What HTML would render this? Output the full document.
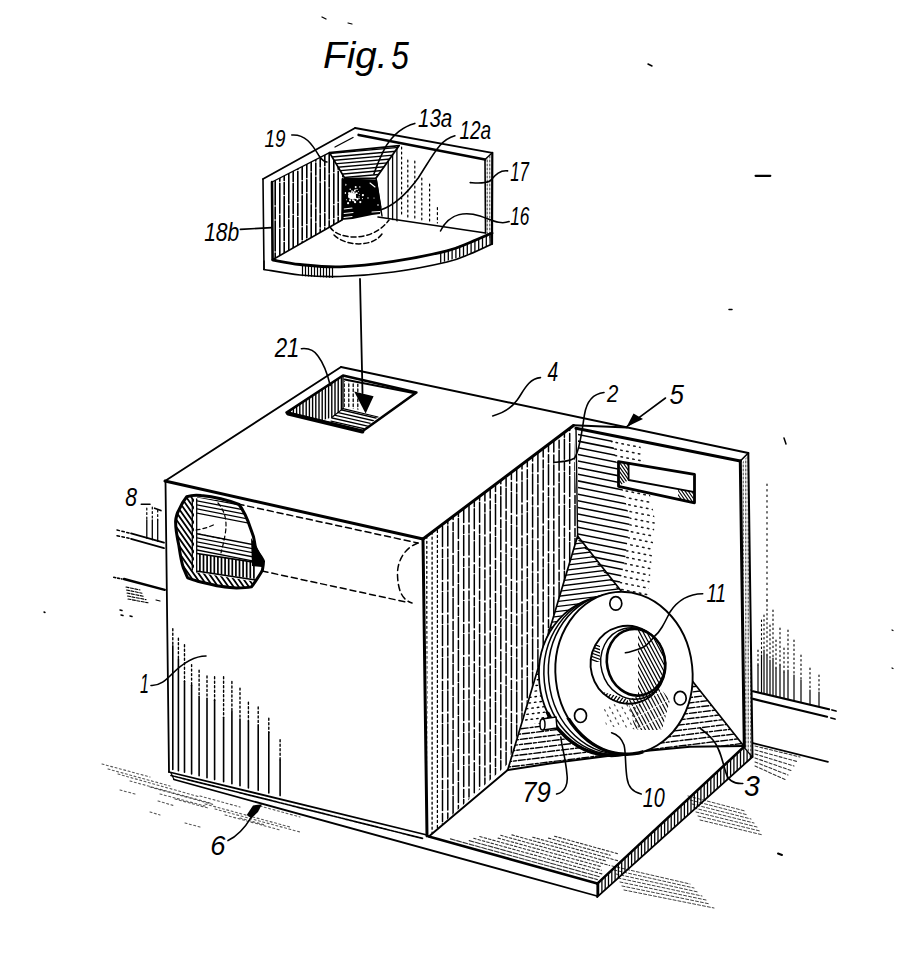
<!DOCTYPE html>
<html><head><meta charset="utf-8"><style>
html,body{margin:0;padding:0;background:#fff;}
svg{display:block;}
text{font-family:"Liberation Sans",sans-serif;fill:#000;stroke:none;}
</style></head><body>
<svg width="898" height="956" viewBox="0 0 898 956" stroke="#000" stroke-linecap="round" stroke-linejoin="round">
<defs><clipPath id="c1"><polygon points="272.0,182.0 329.5,152.6 345.0,178.6 342.0,220.0 272.6,259.7"/></clipPath><clipPath id="c2"><polygon points="329.5,152.6 399.2,145.6 376.1,178.1 345.0,178.6"/></clipPath><clipPath id="c3"><polygon points="385.0,165.0 399.0,145.6 399.0,222.0 385.0,218.0"/></clipPath><clipPath id="c4"><polygon points="486.0,160.0 491.0,154.0 491.0,242.0 486.0,234.0"/></clipPath><clipPath id="c5"><polygon points="300.0,265.0 334.0,267.0 334.0,278.0 300.0,276.0"/></clipPath><clipPath id="c6"><polygon points="440.0,252.0 470.0,242.5 492.0,233.0 492.0,244.0 470.0,254.0 440.0,263.0"/></clipPath><clipPath id="c7"><polygon points="286.5,412.6 343.0,375.5 343.0,408.6 331.7,417.5 320.0,421.0"/></clipPath><clipPath id="c8"><polygon points="331.7,417.0 343.0,408.6 378.0,417.0 363.0,430.0 330.0,423.0"/></clipPath><clipPath id="c9"><polygon points="344.0,381.0 360.0,384.0 360.0,410.0 344.0,407.0"/></clipPath><clipPath id="c10"><polygon points="440.0,526.0 573.5,425.5 577.6,536.0 508.7,763.0 440.0,826.0"/></clipPath><clipPath id="c11"><polygon points="425.0,539.0 440.0,526.0 440.0,826.0 428.8,836.4"/></clipPath><clipPath id="c12"><polygon points="742.0,463.0 748.0,455.0 752.0,756.0 745.0,747.0"/></clipPath><clipPath id="c13"><polygon points="578.0,432.0 612.0,438.0 618.0,470.0 630.0,520.0 625.0,560.0 618.0,590.0 578.0,540.0"/></clipPath><clipPath id="c14"><polygon points="610.0,438.0 640.0,444.0 655.0,520.0 648.0,600.0 618.0,590.0 625.0,560.0 630.0,520.0 618.0,470.0"/></clipPath><clipPath id="c15"><polygon points="619.4,463.0 628.6,464.0 628.6,480.0 619.4,486.0"/></clipPath><clipPath id="c16"><polygon points="678.0,489.0 693.6,492.0 693.6,502.0 678.0,499.0"/></clipPath><clipPath id="c17"><polygon points="577.6,536.0 540.6,660.0 675.7,660.0"/></clipPath><clipPath id="c18"><polygon points="507.7,770.0 521.4,724.0 640.0,724.0 675.7,660.0 743.8,746.0 690.0,746.8 650.0,750.5 600.0,757.0 550.0,763.4"/></clipPath><clipPath id="c19"><polygon points="540.6,660.0 521.4,724.0 640.0,724.0 675.7,660.0"/></clipPath><clipPath id="c20"><polygon points="598.0,884.0 744.0,748.0 752.0,757.0 598.0,896.0"/></clipPath><clipPath id="fbot"><rect x="540" y="705" width="100" height="60"/></clipPath><clipPath id="fbot2"><rect x="545" y="712" width="90" height="50"/></clipPath><clipPath id="c21"><polygon points="603.0,706.0 640.0,700.0 640.0,730.0 606.0,726.0"/></clipPath><clipPath id="c21o"><path d="M555.5,673 a68.5,81.3 0 1,0 137,0 a68.5,81.3 0 1,0 -137,0Z"/></clipPath><clipPath id="c22"><polygon points="590.0,645.0 600.0,645.0 600.0,662.0 590.0,662.0"/></clipPath><clipPath id="c22o"><path d="M590.7,664.8 a37.3,39 0 1,0 74.6,0 a37.3,39 0 1,0 -74.6,0Z"/></clipPath><clipPath id="c23"><polygon points="603.0,692.0 628.0,699.0 628.0,707.0 603.0,702.0"/></clipPath><clipPath id="c23o"><path d="M590.7,664.8 a37.3,39 0 1,0 74.6,0 a37.3,39 0 1,0 -74.6,0Z"/></clipPath><clipPath id="c24"><polygon points="638.0,625.0 670.0,630.0 670.0,700.0 638.0,700.0"/></clipPath><clipPath id="c24o"><path d="M607,662.2 a29,33.5 0 1,0 58,0 a29,33.5 0 1,0 -58,0Z"/></clipPath><clipPath id="c25"><polygon points="628.0,700.0 660.0,688.0 670.0,700.0 662.0,730.0 635.0,730.0"/></clipPath><clipPath id="c25o"><path d="M555.5,673 a68.5,81.3 0 1,0 137,0 a68.5,81.3 0 1,0 -137,0Z"/></clipPath><clipPath id="c26"><polygon points="170.0,490.0 194.0,490.0 194.0,572.0 258.0,582.0 258.0,595.0 170.0,595.0"/></clipPath><clipPath id="c26o"><path d="M186.7,496.7 C192,495 197,495 201.2,495.6 C215,497 230,501 239,504.5 C243,510 246,516 248,521.2 C250,527 252,532 253.5,536.8 C254.5,541 255,545 255.7,549 C258,553 262,557 263.5,561.3 C263.5,564 263,567 262.4,570.2 C261,573 259,576 256.9,579.1 C255,582 253,585 251.3,586.9 C246,588 241,588 236.8,588 C230,587.5 223,587 216.8,585.8 C210,584 204,583 197.8,581.3 C194,580 190,579 187.8,578 C186,575 185,571 183.4,568 C181,561 180,553 178.9,545.7 C177,537 175.5,529 175.6,521.2 C176,517 177,513 178.9,510 C181,505 184,500 186.7,496.7 Z"/></clipPath><clipPath id="c27"><polygon points="197.0,497.0 250.0,505.0 250.0,525.0 197.0,515.0"/></clipPath><clipPath id="c27o"><path d="M186.7,496.7 C192,495 197,495 201.2,495.6 C215,497 230,501 239,504.5 C243,510 246,516 248,521.2 C250,527 252,532 253.5,536.8 C254.5,541 255,545 255.7,549 C258,553 262,557 263.5,561.3 C263.5,564 263,567 262.4,570.2 C261,573 259,576 256.9,579.1 C255,582 253,585 251.3,586.9 C246,588 241,588 236.8,588 C230,587.5 223,587 216.8,585.8 C210,584 204,583 197.8,581.3 C194,580 190,579 187.8,578 C186,575 185,571 183.4,568 C181,561 180,553 178.9,545.7 C177,537 175.5,529 175.6,521.2 C176,517 177,513 178.9,510 C181,505 184,500 186.7,496.7 Z"/></clipPath><clipPath id="c28"><polygon points="197.0,532.0 255.0,543.0 255.0,562.0 197.0,553.0"/></clipPath><clipPath id="c28o"><path d="M186.7,496.7 C192,495 197,495 201.2,495.6 C215,497 230,501 239,504.5 C243,510 246,516 248,521.2 C250,527 252,532 253.5,536.8 C254.5,541 255,545 255.7,549 C258,553 262,557 263.5,561.3 C263.5,564 263,567 262.4,570.2 C261,573 259,576 256.9,579.1 C255,582 253,585 251.3,586.9 C246,588 241,588 236.8,588 C230,587.5 223,587 216.8,585.8 C210,584 204,583 197.8,581.3 C194,580 190,579 187.8,578 C186,575 185,571 183.4,568 C181,561 180,553 178.9,545.7 C177,537 175.5,529 175.6,521.2 C176,517 177,513 178.9,510 C181,505 184,500 186.7,496.7 Z"/></clipPath><clipPath id="c29"><polygon points="197.0,553.5 255.7,562.4 255.7,579.0 197.8,571.3"/></clipPath><clipPath id="c29o"><path d="M186.7,496.7 C192,495 197,495 201.2,495.6 C215,497 230,501 239,504.5 C243,510 246,516 248,521.2 C250,527 252,532 253.5,536.8 C254.5,541 255,545 255.7,549 C258,553 262,557 263.5,561.3 C263.5,564 263,567 262.4,570.2 C261,573 259,576 256.9,579.1 C255,582 253,585 251.3,586.9 C246,588 241,588 236.8,588 C230,587.5 223,587 216.8,585.8 C210,584 204,583 197.8,581.3 C194,580 190,579 187.8,578 C186,575 185,571 183.4,568 C181,561 180,553 178.9,545.7 C177,537 175.5,529 175.6,521.2 C176,517 177,513 178.9,510 C181,505 184,500 186.7,496.7 Z"/></clipPath></defs>
<rect width="898" height="956" fill="#fff" stroke="none"/>
<text x="100" y="150" font-size="100" font-style="italic" transform="translate(284.36,12.9) scale(0.3868,0.3649)" >Fig.</text>
<text x="100" y="150" font-size="100" font-style="italic" transform="translate(359.7,9.86) scale(0.3167,0.395)" >5</text>
<g clip-path="url(#c1)" stroke-width="1.6" fill="none" stroke-dasharray="30 2 12 2" opacity="1.0"><path d="M342.8 150.6L342.8 261.7" stroke-dashoffset="4.0"/><path d="M338.2 150.6L338.2 261.7" stroke-dashoffset="25.4"/><path d="M333.8 150.6L333.8 261.7" stroke-dashoffset="22.9"/><path d="M329.2 150.6L329.2 261.7" stroke-dashoffset="7.7"/><path d="M324.8 150.6L324.8 261.7" stroke-dashoffset="14.9"/><path d="M320.2 150.6L320.2 261.7" stroke-dashoffset="13.5"/><path d="M315.8 150.6L315.8 261.7" stroke-dashoffset="19.5"/><path d="M311.2 150.6L311.2 261.7" stroke-dashoffset="23.7"/><path d="M306.8 150.6L306.8 261.7" stroke-dashoffset="2.8"/><path d="M302.2 150.6L302.2 261.7" stroke-dashoffset="0.9"/><path d="M297.8 150.6L297.8 261.7" stroke-dashoffset="25.1"/><path d="M293.2 150.6L293.2 261.7" stroke-dashoffset="13.0"/><path d="M288.8 150.6L288.8 261.7" stroke-dashoffset="22.9"/><path d="M284.2 150.6L284.2 261.7" stroke-dashoffset="0.1"/><path d="M279.8 150.6L279.8 261.7" stroke-dashoffset="13.4"/><path d="M275.2 150.6L275.2 261.7" stroke-dashoffset="21.6"/></g>
<path clip-path="url(#c2)" d="M327.6 153.7L401.3 147.2M327.9 157.3L401.7 150.8M328.2 160.8L402.0 154.4M328.5 164.4L402.3 158.0M328.8 168.0L402.6 161.6M329.2 171.6L402.9 165.2M329.5 175.2L403.2 168.7M329.8 178.8L403.5 172.3" stroke-width="1.4" fill="none" opacity="1.0"/>
<path clip-path="url(#c3)" d="M396.9 143.6L396.9 224.0M392.6 143.6L392.6 224.0M388.2 143.6L388.2 224.0" stroke-width="1.3" fill="none" opacity="1.0"/>
<line x1="401.6" y1="147.0" x2="401.6" y2="215.7" stroke-width="1.2" stroke-dasharray="2 3"/>
<line x1="407.8" y1="160.0" x2="407.8" y2="217.0" stroke-width="1.2" stroke-dasharray="2 3"/>
<line x1="414.8" y1="161.0" x2="414.8" y2="218.4" stroke-width="1.2" stroke-dasharray="2 3"/>
<line x1="421.8" y1="178.0" x2="421.8" y2="219.8" stroke-width="1.2" stroke-dasharray="2 3"/>
<line x1="429.6" y1="184.0" x2="429.6" y2="221.3" stroke-width="1.2" stroke-dasharray="2 3"/>
<line x1="437.4" y1="207.6" x2="437.4" y2="222.9" stroke-width="1.2" stroke-dasharray="2 3"/>
<path d="M341.5,178.6 L377,179.5 L381.5,207 L380,214 L372,215 L352.6,219 L341.3,220 Z" fill="#000" stroke-width="0" />
<g fill="#fff" stroke="none"><circle cx="352.8" cy="198.3" r="0.9"/><circle cx="359.0" cy="198.5" r="0.7"/><circle cx="359.0" cy="197.9" r="0.4"/><circle cx="352.4" cy="196.7" r="0.5"/><circle cx="346.5" cy="199.8" r="0.5"/><circle cx="355.1" cy="202.2" r="1.1"/><circle cx="350.0" cy="193.9" r="1.1"/><circle cx="362.5" cy="198.6" r="0.6"/><circle cx="355.4" cy="197.8" r="0.6"/><circle cx="355.1" cy="193.4" r="0.8"/><circle cx="351.2" cy="192.7" r="0.8"/><circle cx="355.5" cy="196.6" r="0.5"/><circle cx="352.0" cy="191.7" r="0.6"/><circle cx="349.8" cy="193.5" r="0.6"/><circle cx="355.9" cy="189.3" r="0.6"/><circle cx="349.1" cy="193.5" r="1.0"/><circle cx="353.5" cy="192.3" r="1.1"/><circle cx="357.5" cy="199.2" r="0.9"/><circle cx="357.0" cy="200.3" r="0.4"/><circle cx="350.2" cy="189.3" r="0.8"/><circle cx="356.8" cy="193.2" r="0.9"/><circle cx="349.1" cy="192.7" r="0.7"/><circle cx="359.8" cy="186.9" r="0.7"/><circle cx="353.2" cy="194.6" r="0.9"/><circle cx="345.5" cy="184.7" r="1.0"/><circle cx="353.0" cy="200.3" r="0.9"/><circle cx="359.0" cy="196.7" r="0.5"/><circle cx="355.2" cy="197.1" r="0.9"/><circle cx="356.3" cy="198.5" r="0.7"/><circle cx="355.3" cy="194.7" r="0.7"/><circle cx="345.1" cy="193.1" r="1.0"/><circle cx="356.4" cy="193.3" r="0.7"/><circle cx="348.1" cy="203.2" r="1.1"/><circle cx="355.6" cy="198.3" r="0.6"/><circle cx="354.5" cy="201.2" r="0.8"/><circle cx="354.0" cy="196.4" r="0.7"/><circle cx="350.0" cy="200.3" r="1.1"/><circle cx="352.0" cy="191.0" r="0.8"/><circle cx="353.3" cy="194.7" r="1.0"/><circle cx="355.7" cy="187.0" r="1.0"/><circle cx="350.5" cy="198.8" r="0.5"/><circle cx="352.9" cy="194.8" r="0.4"/><circle cx="354.7" cy="198.6" r="0.6"/><circle cx="354.1" cy="196.0" r="0.5"/><circle cx="357.4" cy="198.5" r="0.4"/><circle cx="358.4" cy="191.6" r="0.5"/><circle cx="353.9" cy="200.2" r="0.7"/><circle cx="360.3" cy="202.1" r="1.1"/><circle cx="348.9" cy="197.1" r="0.5"/><circle cx="357.3" cy="198.5" r="0.6"/><circle cx="355.3" cy="193.7" r="0.4"/><circle cx="359.3" cy="194.3" r="0.5"/><circle cx="353.0" cy="195.7" r="0.8"/><circle cx="362.9" cy="194.8" r="0.9"/><circle cx="353.7" cy="200.3" r="0.5"/><circle cx="354.8" cy="190.5" r="0.9"/><circle cx="352.5" cy="198.8" r="1.0"/><circle cx="362.8" cy="195.2" r="1.0"/><circle cx="357.1" cy="189.3" r="0.6"/><circle cx="349.8" cy="195.5" r="0.4"/><ellipse cx="352" cy="196" rx="4" ry="3"/><circle cx="368" cy="198" r="0.7"/><circle cx="374" cy="198" r="0.6"/><circle cx="378" cy="205" r="0.8"/></g>
<path d="M344,209 L352,208 M344,213.5 L353,212.5 M344,217.5 L352,216.5 M372,212 L380,211.5" fill="none" stroke-width="1.1" stroke="#fff"/>
<path d="M370,183 L375,187" fill="none" stroke-width="1.1" stroke="#fff"/>
<line x1="263.0" y1="179.0" x2="264.0" y2="269.5" stroke-width="1.6" />
<line x1="272.0" y1="182.0" x2="272.6" y2="259.7" stroke-width="2.6" />
<line x1="263.0" y1="179.0" x2="355.1" y2="128.0" stroke-width="1.8" />
<line x1="272.0" y1="182.0" x2="329.5" y2="152.6" stroke-width="1.4" />
<line x1="355.1" y1="128.0" x2="492.3" y2="152.8" stroke-width="1.8" />
<line x1="358.7" y1="135.0" x2="485.0" y2="159.5" stroke-width="2.8" />
<line x1="353.0" y1="137.5" x2="335.0" y2="147.0" stroke-width="1.4" />
<line x1="492.3" y1="152.8" x2="492.0" y2="244.0" stroke-width="2.2" />
<line x1="485.0" y1="159.5" x2="492.3" y2="152.8" stroke-width="1.4" />
<line x1="485.0" y1="159.5" x2="485.5" y2="233.0" stroke-width="1.6" />
<path clip-path="url(#c4)" d="M489.8 152.0L489.8 244.0M487.2 152.0L487.2 244.0" stroke-width="0.8" fill="none" stroke-dasharray="2 2" opacity="1.0"/>
<polygon points="329.5,152.6 399.2,145.6 376.1,178.1 345.0,178.6" fill="none" stroke-width="1.8" />
<line x1="345.0" y1="178.6" x2="342.0" y2="220.0" stroke-width="1.6" />
<line x1="376.0" y1="178.0" x2="382.0" y2="216.0" stroke-width="1.4" />
<line x1="272.6" y1="259.7" x2="342.0" y2="220.0" stroke-width="1.6" />
<line x1="378.0" y1="217.0" x2="485.5" y2="233.0" stroke-width="1.6" />
<path d="M273.0,260.0 C277.5,260.8 288.8,263.4 300.0,264.5 C311.2,265.6 324.4,267.3 340.0,266.8 C355.6,266.3 375.7,264.1 393.5,261.4 C411.3,258.7 434.2,254.0 447.0,250.8 C459.8,247.7 462.5,245.5 470.0,242.5 C477.5,239.5 488.3,234.6 492.0,233.0" fill="none" stroke-width="2.8" />
<path d="M264.0,269.5 C270.0,270.4 287.3,273.8 300.0,275.0 C312.7,276.2 324.4,277.0 340.0,276.5 C355.6,276.0 375.7,274.4 393.5,272.0 C411.3,269.6 434.2,265.0 447.0,262.0 C459.8,259.0 462.5,257.0 470.0,254.0 C477.5,251.0 488.3,245.7 492.0,244.0" fill="none" stroke-width="1.7" />
<line x1="264.0" y1="269.5" x2="264.0" y2="261.0" stroke-width="1.4" />
<path clip-path="url(#c5)" d="M332.5 263.0L332.5 280.0M329.5 263.0L329.5 280.0M326.5 263.0L326.5 280.0M323.5 263.0L323.5 280.0M320.5 263.0L320.5 280.0M317.5 263.0L317.5 280.0M314.5 263.0L314.5 280.0M311.5 263.0L311.5 280.0M308.5 263.0L308.5 280.0M305.5 263.0L305.5 280.0M302.5 263.0L302.5 280.0" stroke-width="1.2" fill="none" opacity="1.0"/>
<path clip-path="url(#c6)" d="M490.1 231.0L490.1 265.0M486.3 231.0L486.3 265.0M482.5 231.0L482.5 265.0M478.7 231.0L478.7 265.0M474.9 231.0L474.9 265.0M471.1 231.0L471.1 265.0M467.3 231.0L467.3 265.0M463.5 231.0L463.5 265.0M459.7 231.0L459.7 265.0M455.9 231.0L455.9 265.0M452.1 231.0L452.1 265.0M448.3 231.0L448.3 265.0M444.5 231.0L444.5 265.0M440.7 231.0L440.7 265.0" stroke-width="1.3" fill="none" opacity="1.0"/>
<path d="M330,227 C338,240 372,243 389,220" fill="none" stroke-width="1.5" stroke-dasharray="5 3"/>
<path d="M334,235 C345,246 372,248 382,234" fill="none" stroke-width="1.5" stroke-dasharray="5 3"/>
<path d="M291.8,135 C305,134 312,144 318.6,155.2 C322,160 325,162 327,162" fill="none" stroke-width="1.6" />
<path d="M414.8,123.4 C405,126 395,132 386.3,145.6 C381,155 377,165 373.9,174.1" fill="none" stroke-width="1.6" />
<path d="M454.9,135.8 C440,140 435,152 418.4,177.7 C408,192 395,205 381,209.8" fill="none" stroke-width="1.6" />
<path d="M507.6,170.9 C498,170 494,177 490,181 C484,184 476,183 470.2,182.6" fill="none" stroke-width="1.6" />
<path d="M509.1,221.6 C500,225 492,220 480,216 C467,212 450,212 440.5,231" fill="none" stroke-width="1.6" />
<line x1="240.4" y1="229.4" x2="271.6" y2="227.6" stroke-width="1.6" />
<text x="100" y="150" font-size="100" font-style="italic" transform="translate(245.57,110.85) scale(0.1887,0.2394)" >19</text>
<text x="100" y="150" font-size="100" font-style="italic" transform="translate(397.58,89.23) scale(0.205,0.2521)" >13a</text>
<text x="100" y="150" font-size="100" font-style="italic" transform="translate(440.43,100.72) scale(0.19,0.2535)" >12a</text>
<text x="100" y="150" font-size="100" font-style="italic" transform="translate(493.35,140.57) scale(0.1685,0.2696)" >17</text>
<text x="100" y="150" font-size="100" font-style="italic" transform="translate(492.87,187.43) scale(0.1731,0.2521)" >16</text>
<text x="100" y="150" font-size="100" font-style="italic" transform="translate(183.11,202.84) scale(0.2106,0.2527)" >18b</text>
<line x1="360.0" y1="279.0" x2="362.5" y2="393.0" stroke-width="1.8" />
<polygon points="354.2,391.5 373.6,396.2 365.6,413.5" fill="#000" stroke="none" />
<path clip-path="url(#c7)" d="M341.4 373.5L341.4 423.0M338.2 373.5L338.2 423.0M335.0 373.5L335.0 423.0M331.8 373.5L331.8 423.0M328.6 373.5L328.6 423.0M325.4 373.5L325.4 423.0M322.2 373.5L322.2 423.0M319.0 373.5L319.0 423.0M315.8 373.5L315.8 423.0M312.6 373.5L312.6 423.0M309.4 373.5L309.4 423.0M306.2 373.5L306.2 423.0M303.0 373.5L303.0 423.0M299.8 373.5L299.8 423.0M296.6 373.5L296.6 423.0M293.4 373.5L293.4 423.0M290.2 373.5L290.2 423.0M287.0 373.5L287.0 423.0" stroke-width="1.4" fill="none" opacity="1.0"/>
<path clip-path="url(#c8)" d="M331.5 407.6L379.6 418.8M330.8 410.9L378.9 422.0M330.0 414.1L378.2 425.2M329.3 417.3L377.4 428.4M328.5 420.5L376.7 431.6" stroke-width="1.4" fill="none" opacity="1.0"/>
<path clip-path="url(#c9)" d="M357.8 379.0L357.8 412.0M353.2 379.0L353.2 412.0M348.8 379.0L348.8 412.0M344.2 379.0L344.2 412.0" stroke-width="1.3" fill="none" stroke-dasharray="2.5 2.5" opacity="1.0"/>
<line x1="288.0" y1="413.5" x2="362.4" y2="431.5" stroke-width="4.0" />
<polygon points="286.5,412.6 343.0,375.5 416.4,392.5 362.4,431.2" fill="none" stroke-width="2.6" />
<line x1="343.0" y1="377.0" x2="343.0" y2="408.6" stroke-width="1.4" />
<line x1="331.7" y1="417.5" x2="343.0" y2="408.6" stroke-width="1.2" />
<line x1="343.0" y1="408.6" x2="378.0" y2="417.0" stroke-width="1.2" />
<line x1="344.6" y1="379.5" x2="414.8" y2="393.3" stroke-width="2.0" />
<line x1="165.0" y1="481.0" x2="341.0" y2="367.0" stroke-width="1.8" />
<line x1="341.0" y1="367.0" x2="748.3" y2="453.0" stroke-width="1.9" />
<line x1="165.0" y1="481.0" x2="423.0" y2="539.0" stroke-width="3.0" />
<line x1="423.0" y1="539.0" x2="573.5" y2="425.5" stroke-width="3.0" />
<line x1="423.0" y1="539.0" x2="427.0" y2="836.0" stroke-width="3.0" />
<line x1="165.5" y1="481.0" x2="169.0" y2="772.0" stroke-width="1.8" />
<line x1="169.0" y1="772.0" x2="427.0" y2="835.0" stroke-width="1.8" />
<line x1="171.0" y1="775.5" x2="423.0" y2="838.5" stroke-width="1.7" stroke-dasharray="3 1.2"/>
<line x1="174.0" y1="779.5" x2="597.0" y2="896.0" stroke-width="1.8" />
<line x1="171.0" y1="773.0" x2="174.0" y2="779.5" stroke-width="1.2" />
<g clip-path="url(#c10)" stroke-width="1.5" fill="none" stroke-dasharray="20 3 8 2" opacity="1.0"><path d="M575.0 423.5L575.0 828.0" stroke-dashoffset="17.1"/><path d="M569.7 423.5L569.7 828.0" stroke-dashoffset="12.9"/><path d="M564.4 423.5L564.4 828.0" stroke-dashoffset="17.3"/><path d="M559.1 423.5L559.1 828.0" stroke-dashoffset="6.2"/><path d="M553.8 423.5L553.8 828.0" stroke-dashoffset="24.4"/><path d="M548.5 423.5L548.5 828.0" stroke-dashoffset="24.7"/><path d="M543.2 423.5L543.2 828.0" stroke-dashoffset="19.6"/><path d="M537.9 423.5L537.9 828.0" stroke-dashoffset="4.8"/><path d="M532.6 423.5L532.6 828.0" stroke-dashoffset="15.6"/><path d="M527.3 423.5L527.3 828.0" stroke-dashoffset="9.8"/><path d="M522.0 423.5L522.0 828.0" stroke-dashoffset="7.5"/><path d="M516.7 423.5L516.7 828.0" stroke-dashoffset="28.6"/><path d="M511.4 423.5L511.4 828.0" stroke-dashoffset="29.9"/><path d="M506.1 423.5L506.1 828.0" stroke-dashoffset="1.3"/><path d="M500.8 423.5L500.8 828.0" stroke-dashoffset="25.8"/><path d="M495.5 423.5L495.5 828.0" stroke-dashoffset="18.1"/><path d="M490.2 423.5L490.2 828.0" stroke-dashoffset="11.4"/><path d="M484.9 423.5L484.9 828.0" stroke-dashoffset="8.5"/><path d="M479.6 423.5L479.6 828.0" stroke-dashoffset="20.2"/><path d="M474.3 423.5L474.3 828.0" stroke-dashoffset="13.7"/><path d="M469.0 423.5L469.0 828.0" stroke-dashoffset="20.6"/><path d="M463.7 423.5L463.7 828.0" stroke-dashoffset="19.9"/><path d="M458.4 423.5L458.4 828.0" stroke-dashoffset="4.0"/><path d="M453.1 423.5L453.1 828.0" stroke-dashoffset="23.0"/><path d="M447.8 423.5L447.8 828.0" stroke-dashoffset="29.5"/><path d="M442.5 423.5L442.5 828.0" stroke-dashoffset="29.1"/></g>
<g clip-path="url(#c11)" stroke-width="1.3" fill="none" stroke-dasharray="2 3" opacity="1.0"><path d="M437.4 524.0L437.4 838.4" stroke-dashoffset="13.6"/><path d="M432.1 524.0L432.1 838.4" stroke-dashoffset="16.8"/><path d="M426.8 524.0L426.8 838.4" stroke-dashoffset="27.7"/></g>
<line x1="573.5" y1="425.2" x2="627.0" y2="427.4" stroke-width="2.0" />
<line x1="740.3" y1="461.0" x2="748.3" y2="453.0" stroke-width="1.6" />
<line x1="575.9" y1="428.3" x2="740.3" y2="461.0" stroke-width="3.0" />
<line x1="748.3" y1="453.0" x2="752.5" y2="757.0" stroke-width="2.0" />
<line x1="740.3" y1="461.0" x2="744.3" y2="747.0" stroke-width="3.0" />
<path clip-path="url(#c12)" d="M750.8 453.0L750.8 758.0M748.2 453.0L748.2 758.0M745.8 453.0L745.8 758.0M743.2 453.0L743.2 758.0" stroke-width="0.8" fill="none" stroke-dasharray="2 2" opacity="1.0"/>
<line x1="576.0" y1="428.0" x2="577.6" y2="536.0" stroke-width="1.4" />
<path clip-path="url(#c13)" d="M575.6 434.0L649.3 448.8M574.3 440.4L648.0 455.1M573.0 446.8L646.7 461.5M571.7 453.2L645.4 467.9M570.5 459.5L644.2 474.3M569.2 465.9L642.9 480.6M567.9 472.3L641.6 487.0M566.6 478.6L640.4 493.4M565.4 485.0L639.1 499.8M564.1 491.4L637.8 506.1M562.8 497.8L636.5 512.5M561.5 504.1L635.3 518.9M560.3 510.5L634.0 525.2M559.0 516.9L632.7 531.6M557.7 523.3L631.4 538.0M556.4 529.6L630.2 544.4M555.2 536.0L628.9 550.7M553.9 542.4L627.6 557.1M552.6 548.8L626.3 563.5M551.4 555.1L625.1 569.9M550.1 561.5L623.8 576.2M548.8 567.9L622.5 582.6M547.5 574.3L621.2 589.0" stroke-width="1.5" fill="none" opacity="1.0"/>
<g clip-path="url(#c14)" stroke-width="1.5" fill="none" stroke-dasharray="1.5 4.5" opacity="0.9"><path d="M607.4 440.8L679.0 455.1" stroke-dashoffset="3.2"/><path d="M606.1 447.2L677.7 461.5" stroke-dashoffset="21.1"/><path d="M604.9 453.5L676.4 467.8" stroke-dashoffset="19.6"/><path d="M603.6 459.9L675.2 474.2" stroke-dashoffset="28.2"/><path d="M602.3 466.3L673.9 480.6" stroke-dashoffset="8.1"/><path d="M601.0 472.7L672.6 487.0" stroke-dashoffset="7.7"/><path d="M599.8 479.0L671.4 493.3" stroke-dashoffset="22.0"/><path d="M598.5 485.4L670.1 499.7" stroke-dashoffset="19.8"/><path d="M597.2 491.8L668.8 506.1" stroke-dashoffset="9.1"/><path d="M595.9 498.2L667.5 512.5" stroke-dashoffset="20.5"/><path d="M594.7 504.5L666.3 518.8" stroke-dashoffset="11.9"/><path d="M593.4 510.9L665.0 525.2" stroke-dashoffset="23.3"/><path d="M592.1 517.3L663.7 531.6" stroke-dashoffset="3.6"/><path d="M590.8 523.7L662.4 538.0" stroke-dashoffset="6.7"/><path d="M589.6 530.0L661.2 544.3" stroke-dashoffset="27.0"/><path d="M588.3 536.4L659.9 550.7" stroke-dashoffset="10.7"/><path d="M587.0 542.8L658.6 557.1" stroke-dashoffset="7.8"/><path d="M585.7 549.2L657.3 563.5" stroke-dashoffset="24.1"/><path d="M584.5 555.5L656.1 569.8" stroke-dashoffset="18.9"/><path d="M583.2 561.9L654.8 576.2" stroke-dashoffset="4.5"/><path d="M581.9 568.3L653.5 582.6" stroke-dashoffset="16.5"/><path d="M580.7 574.6L652.2 589.0" stroke-dashoffset="19.9"/><path d="M579.4 581.0L651.0 595.3" stroke-dashoffset="4.9"/></g>
<polygon points="618.5,461.6 694.5,474.4 694.5,502.8 618.5,486.3" fill="#fff" stroke-width="2.8" />
<polyline points="628.6,463.5 628.6,480.0 693.6,491.8" fill="none" stroke-width="1.8" />
<path clip-path="url(#c15)" d="M622.9 458.1L636.2 477.1M620.8 459.6L634.1 478.6M618.6 461.1L631.9 480.1M616.5 462.6L629.8 481.6M614.4 464.1L627.7 483.1M612.2 465.6L625.6 484.6M610.1 467.1L623.4 486.1M608.0 468.6L621.3 487.6" stroke-width="1.1" fill="none" opacity="1.0"/>
<path clip-path="url(#c16)" d="M684.8 481.8L698.4 501.1M682.7 483.3L696.3 502.6M680.6 484.7L694.1 504.1M678.5 486.2L692.0 505.6M676.3 487.7L689.9 507.1M674.2 489.2L687.7 508.6" stroke-width="1.1" fill="none" opacity="1.0"/>
<path clip-path="url(#c17)" d="M524.5 545.0L661.5 528.2M525.1 550.0L662.1 533.2M525.7 555.0L662.8 538.1M526.3 559.9L663.4 543.1M526.9 564.9L664.0 548.1M527.5 569.9L664.6 553.0M528.1 574.8L665.2 558.0M528.7 579.8L665.8 563.0M529.3 584.7L666.4 567.9M530.0 589.7L667.0 572.9M530.6 594.7L667.6 577.8M531.2 599.6L668.2 582.8M531.8 604.6L668.8 587.8M532.4 609.6L669.5 592.7M533.0 614.5L670.1 597.7M533.6 619.5L670.7 602.7M534.2 624.4L671.3 607.6M534.8 629.4L671.9 612.6M535.4 634.4L672.5 617.5M536.0 639.3L673.1 622.5M536.7 644.3L673.7 627.5M537.3 649.3L674.3 632.4M537.9 654.2L674.9 637.4M538.5 659.2L675.5 642.4M539.1 664.1L676.2 647.3M539.7 669.1L676.8 652.3M540.3 674.1L677.4 657.2" stroke-width="1.3" fill="none" opacity="1.0"/>
<g clip-path="url(#c18)" stroke-width="1.4" fill="none" stroke-dasharray="7 2 3 2" opacity="1.0"><path d="M495.2 684.8L734.7 655.4" stroke-dashoffset="5.4"/><path d="M495.9 689.9L735.3 660.5" stroke-dashoffset="19.8"/><path d="M496.5 695.1L736.0 665.7" stroke-dashoffset="10.0"/><path d="M497.1 700.3L736.6 670.9" stroke-dashoffset="5.9"/><path d="M497.8 705.4L737.2 676.0" stroke-dashoffset="14.7"/><path d="M498.4 710.6L737.9 681.2" stroke-dashoffset="14.8"/><path d="M499.0 715.7L738.5 686.3" stroke-dashoffset="14.4"/><path d="M499.7 720.9L739.1 691.5" stroke-dashoffset="13.7"/><path d="M500.3 726.1L739.8 696.7" stroke-dashoffset="7.9"/><path d="M500.9 731.2L740.4 701.8" stroke-dashoffset="7.6"/><path d="M501.6 736.4L741.0 707.0" stroke-dashoffset="20.8"/><path d="M502.2 741.6L741.7 712.2" stroke-dashoffset="9.7"/><path d="M502.8 746.7L742.3 717.3" stroke-dashoffset="20.2"/><path d="M503.5 751.9L742.9 722.5" stroke-dashoffset="23.6"/><path d="M504.1 757.0L743.6 727.6" stroke-dashoffset="26.0"/><path d="M504.7 762.2L744.2 732.8" stroke-dashoffset="28.3"/><path d="M505.4 767.4L744.8 738.0" stroke-dashoffset="7.0"/><path d="M506.0 772.5L745.5 743.1" stroke-dashoffset="7.1"/></g>
<g clip-path="url(#c19)" stroke-width="1.4" fill="none" stroke-dasharray="1.5 4" opacity="1.0"><path d="M512.3 666.2L676.0 646.1" stroke-dashoffset="20.3"/><path d="M513.0 671.7L676.7 651.6" stroke-dashoffset="23.5"/><path d="M513.6 677.2L677.4 657.1" stroke-dashoffset="15.6"/><path d="M514.3 682.6L678.0 662.5" stroke-dashoffset="15.3"/><path d="M515.0 688.1L678.7 668.0" stroke-dashoffset="11.8"/><path d="M515.6 693.5L679.4 673.4" stroke-dashoffset="29.9"/><path d="M516.3 699.0L680.0 678.9" stroke-dashoffset="8.7"/><path d="M517.0 704.5L680.7 684.4" stroke-dashoffset="4.4"/><path d="M517.7 709.9L681.4 689.8" stroke-dashoffset="7.8"/><path d="M518.3 715.4L682.0 695.3" stroke-dashoffset="7.8"/><path d="M519.0 720.8L682.7 700.7" stroke-dashoffset="9.8"/><path d="M519.7 726.3L683.4 706.2" stroke-dashoffset="8.0"/><path d="M520.3 731.8L684.1 711.7" stroke-dashoffset="3.2"/><path d="M521.0 737.2L684.7 717.1" stroke-dashoffset="9.8"/></g>
<line x1="577.6" y1="536.0" x2="507.7" y2="770.0" stroke-width="1.7" />
<line x1="577.6" y1="536.0" x2="743.8" y2="746.0" stroke-width="1.7" />
<polyline points="743.8,746.0 690.0,746.8 650.0,750.5 600.0,757.0 550.0,763.4 507.7,770.0" fill="none" stroke-width="2.0" />
<line x1="428.8" y1="836.4" x2="507.7" y2="770.0" stroke-width="1.9" />
<line x1="428.8" y1="836.4" x2="597.3" y2="883.6" stroke-width="2.6" />
<line x1="597.3" y1="883.6" x2="743.8" y2="747.0" stroke-width="2.6" />
<line x1="597.3" y1="896.9" x2="752.3" y2="757.0" stroke-width="1.8" />
<line x1="597.3" y1="883.6" x2="597.3" y2="896.9" stroke-width="1.8" />
<line x1="743.8" y1="747.0" x2="752.3" y2="757.0" stroke-width="1.2" />
<path clip-path="url(#c20)" d="M750.4 746.0L750.4 898.0M747.1 746.0L747.1 898.0M743.8 746.0L743.8 898.0M740.5 746.0L740.5 898.0M737.2 746.0L737.2 898.0M733.9 746.0L733.9 898.0M730.6 746.0L730.6 898.0M727.3 746.0L727.3 898.0M724.0 746.0L724.0 898.0M720.7 746.0L720.7 898.0M717.4 746.0L717.4 898.0M714.1 746.0L714.1 898.0M710.8 746.0L710.8 898.0M707.5 746.0L707.5 898.0M704.2 746.0L704.2 898.0M700.9 746.0L700.9 898.0M697.6 746.0L697.6 898.0M694.3 746.0L694.3 898.0M691.0 746.0L691.0 898.0M687.7 746.0L687.7 898.0M684.4 746.0L684.4 898.0M681.1 746.0L681.1 898.0M677.8 746.0L677.8 898.0M674.5 746.0L674.5 898.0M671.2 746.0L671.2 898.0M667.9 746.0L667.9 898.0M664.6 746.0L664.6 898.0M661.3 746.0L661.3 898.0M658.0 746.0L658.0 898.0M654.7 746.0L654.7 898.0M651.4 746.0L651.4 898.0M648.1 746.0L648.1 898.0M644.8 746.0L644.8 898.0M641.5 746.0L641.5 898.0M638.2 746.0L638.2 898.0M634.9 746.0L634.9 898.0M631.6 746.0L631.6 898.0M628.3 746.0L628.3 898.0M625.0 746.0L625.0 898.0M621.7 746.0L621.7 898.0M618.4 746.0L618.4 898.0M615.1 746.0L615.1 898.0M611.8 746.0L611.8 898.0M608.5 746.0L608.5 898.0M605.2 746.0L605.2 898.0M601.9 746.0L601.9 898.0M598.6 746.0L598.6 898.0" stroke-width="1.3" fill="none" opacity="1.0"/>
<ellipse cx="610" cy="676" rx="71" ry="79.5" fill="#fff" stroke-width="1.8" transform="rotate(-6 610 676)"/>
<ellipse cx="610" cy="676" rx="71" ry="79.5" fill="none" stroke-width="3.6" transform="rotate(-6 610 676)" clip-path="url(#fbot)"/>
<ellipse cx="614" cy="675" rx="70" ry="80" fill="none" stroke-width="1.5" transform="rotate(-6 614 675)"/>
<ellipse cx="618" cy="674" rx="69.5" ry="80.5" fill="none" stroke-width="1.5" transform="rotate(-6 618 674)"/>
<ellipse cx="624" cy="673" rx="68.5" ry="81.3" fill="#fff" stroke-width="1.9" transform="rotate(-6 624 673)"/>
<ellipse cx="624" cy="673" rx="68.5" ry="81.3" fill="none" stroke-width="3.4" transform="rotate(-6 624 673)" clip-path="url(#fbot2)"/>
<g clip-path="url(#c21o)"><path clip-path="url(#c21)" d="M631.0 688.9L650.9 726.4M626.1 691.4L646.1 729.0M621.3 694.0L641.2 731.6M616.4 696.6L636.4 734.2M611.5 699.2L631.5 736.8M606.7 701.8L626.7 739.4M601.8 704.4L621.8 741.9M597.0 706.9L617.0 744.5" stroke-width="1.2" fill="none" stroke-dasharray="1.5 4.5" opacity="0.7"/></g>
<ellipse cx="615.8" cy="603.4" rx="6" ry="6.8" fill="#fff" stroke-width="1.7"/>
<ellipse cx="680.2" cy="698.2" rx="6" ry="6.8" fill="#fff" stroke-width="1.7"/>
<ellipse cx="580.5" cy="715.7" rx="6" ry="6.8" fill="#fff" stroke-width="1.7"/>
<ellipse cx="628" cy="664.8" rx="37.3" ry="39" fill="#fff" stroke-width="1.9" transform="rotate(-15 628 664.8)"/>
<g clip-path="url(#c22o)"><path clip-path="url(#c22)" d="M588.8 642.5L606.8 649.1M587.8 645.3L605.8 651.9M586.7 648.1L604.8 654.7M585.7 651.0L603.8 657.5M584.7 653.8L602.7 660.4M583.6 656.6L601.7 663.2" stroke-width="1.3" fill="none" opacity="1.0"/></g>
<g clip-path="url(#c23o)"><path clip-path="url(#c23)" d="M598.4 701.2L610.3 684.2M600.8 702.9L612.8 685.9M603.3 704.7L615.2 687.6M605.8 706.4L617.7 689.3M608.2 708.1L620.1 691.1M610.7 709.8L622.6 692.8M613.1 711.5L625.1 694.5M615.6 713.3L627.5 696.2M618.0 715.0L630.0 697.9M620.5 716.7L632.4 699.7" stroke-width="1.3" fill="none" opacity="1.0"/></g>
<ellipse cx="633" cy="663.5" rx="32" ry="36" fill="none" stroke-width="1.4" transform="rotate(-15 633 663.5)"/>
<ellipse cx="636" cy="662.2" rx="29" ry="33.5" fill="#fff" stroke-width="2.6" transform="rotate(-12 636 662.2)"/>
<g clip-path="url(#c24o)"><path clip-path="url(#c24)" d="M658.5 611.8L698.5 687.1M655.6 613.4L695.6 688.7M652.7 614.9L692.7 690.2M649.7 616.5L689.8 691.8M646.8 618.0L686.8 693.3M643.9 619.6L683.9 694.9M641.0 621.1L681.0 696.4M638.1 622.7L678.1 698.0M635.2 624.2L675.2 699.5M632.3 625.8L672.3 701.1M629.3 627.3L669.4 702.6M626.4 628.9L666.4 704.2M623.5 630.4L663.5 705.7M620.6 632.0L660.6 707.3M617.7 633.5L657.7 708.8M614.8 635.1L654.8 710.4M611.9 636.6L651.9 711.9M608.9 638.2L649.0 713.4M606.0 639.7L646.1 715.0" stroke-width="1.2" fill="none" opacity="1.0"/></g>
<g clip-path="url(#c25o)"><path clip-path="url(#c25)" d="M658.3 681.6L680.1 722.6M655.3 683.2L677.1 724.2M652.3 684.8L674.1 725.8M649.3 686.4L671.1 727.4M646.3 688.0L668.1 729.0M643.3 689.6L665.1 730.6M640.3 691.2L662.1 732.2M637.3 692.8L659.1 733.8M634.3 694.4L656.1 735.4M631.3 696.0L653.1 737.0M628.3 697.6L650.1 738.6M625.3 699.2L647.1 740.2M622.3 700.8L644.1 741.8" stroke-width="1.2" fill="none" stroke-dasharray="9 2" opacity="0.95"/></g>
<polygon points="542.0,719.0 556.0,717.0 557.0,728.0 543.0,730.0" fill="#fff" stroke-width="1.5" />
<ellipse cx="542.5" cy="724.5" rx="2.5" ry="5.5" fill="#fff" stroke-width="1.5"/>
<path d="M702.7,593.8 C690,594 678,600 670,612 C664,624 660,632 654.8,636 C650,642 646,646 642.8,647.4 C636,650 630,652 625.4,652.8" fill="none" stroke-width="1.6" />
<path d="M556.6,794 C566,792 568,783 567,775 C566,760 562,748 560.8,737" fill="none" stroke-width="1.6" />
<path d="M641.2,794 C632,792 628,786 627,778 C625,765 626,752 624,745 C621,737 616,734 611.6,732.7" fill="none" stroke-width="1.6" />
<path d="M742.8,783.5 C734,784 728,780 726,773 C722,760 720,748 713,740 C709,735 704,731 700.5,728.5" fill="none" stroke-width="1.6" />
<text x="100" y="150" font-size="100" font-style="italic" transform="translate(687.52,564.46) scale(0.1891,0.2536)" >11</text>
<text x="100" y="150" font-size="100" font-style="italic" transform="translate(496.58,757.63) scale(0.2566,0.2972)" >79</text>
<text x="100" y="150" font-size="100" font-style="italic" transform="translate(622.89,766.18) scale(0.1981,0.269)" >10</text>
<text x="100" y="150" font-size="100" font-style="italic" transform="translate(715.58,751.11) scale(0.2846,0.2986)" >3</text>
<path d="M540.5,377.6 C528,378 522,394 517.2,400 C510,410 500,414 492.7,415.9" fill="none" stroke-width="1.6" />
<text x="100" y="150" font-size="100" font-style="italic" transform="translate(528.39,340.7) scale(0.1922,0.2691)" >4</text>
<path d="M604,392.5 C590,394 586,405 584.4,415 C582,430 580,450 574.4,458.3 C568,462 560,462 554.3,462.3" fill="none" stroke-width="1.6" />
<text x="100" y="150" font-size="100" font-style="italic" transform="translate(586.63,365.16) scale(0.2037,0.2443)" >2</text>
<line x1="665.5" y1="398.0" x2="626.5" y2="426.8" stroke-width="1.6" />
<polygon points="626.5,427.0 633.5,413.5 643.0,419.0" fill="#000" stroke="none" />
<text x="100" y="150" font-size="100" font-style="italic" transform="translate(643.56,363.01) scale(0.2593,0.2714)" >5</text>
<path d="M301.4,348.7 C308,348 314,350 318,356 C324,364 328,376 330.2,385.5" fill="none" stroke-width="1.6" />
<text x="100" y="150" font-size="100" font-style="italic" transform="translate(252.45,317.33) scale(0.2225,0.2671)" >21</text>
<text x="100" y="150" font-size="100" font-style="italic" transform="translate(104.21,467.72) scale(0.2115,0.2535)" >8</text>
<path d="M141.3,504.3 L150,504.3 M154.6,508.2 L160.9,510.6" fill="none" stroke-width="1.6" />
<text x="100" y="150" font-size="100" font-style="italic" transform="translate(123.88,650.79) scale(0.1614,0.2841)" >1</text>
<path d="M151,685.5 C160,686 166,680 172,674 C180,666 192,656 206,656" fill="none" stroke-width="1.6" />
<text x="100" y="150" font-size="100" font-style="italic" transform="translate(182.81,812.55) scale(0.2735,0.2831)" >6</text>
<path d="M228,840.6 C238,836 246,826 251.4,817.2" fill="none" stroke-width="1.6" />
<polygon points="246.7,815.0 253.0,805.5 262.0,804.3 258.0,812.0 251.4,818.3" fill="#000" stroke="none" />
<path d="M186.7,496.7 C192,495 197,495 201.2,495.6 C215,497 230,501 239,504.5 C243,510 246,516 248,521.2 C250,527 252,532 253.5,536.8 C254.5,541 255,545 255.7,549 C258,553 262,557 263.5,561.3 C263.5,564 263,567 262.4,570.2 C261,573 259,576 256.9,579.1 C255,582 253,585 251.3,586.9 C246,588 241,588 236.8,588 C230,587.5 223,587 216.8,585.8 C210,584 204,583 197.8,581.3 C194,580 190,579 187.8,578 C186,575 185,571 183.4,568 C181,561 180,553 178.9,545.7 C177,537 175.5,529 175.6,521.2 C176,517 177,513 178.9,510 C181,505 184,500 186.7,496.7 Z" fill="#fff" stroke="none"/>
<g clip-path="url(#c26o)"><path clip-path="url(#c26)" d="M183.2 478.3L263.8 593.4M179.8 480.7L260.4 595.8M176.4 483.1L256.9 598.2M172.9 485.5L253.5 600.6M169.5 487.9L250.1 603.0M166.0 490.3L246.6 605.4M162.6 492.7L243.2 607.8M159.2 495.2L239.7 610.2M155.7 497.6L236.3 612.6M152.3 500.0L232.9 615.1M148.8 502.4L229.4 617.5M145.4 504.8L226.0 619.9M142.0 507.2L222.5 622.3M138.5 509.6L219.1 624.7M135.1 512.0L215.7 627.1M131.6 514.4L212.2 629.5M128.2 516.8L208.8 631.9M124.7 519.2L205.3 634.3M121.3 521.7L201.9 636.7" stroke-width="1.8" fill="none" opacity="1.0"/></g>
<g clip-path="url(#c27o)"><path clip-path="url(#c27)" d="M195.1 496.4L255.3 508.1M194.3 500.3L254.6 512.0M193.6 504.2L253.8 515.9M192.8 508.1L253.0 519.9M192.0 512.1L252.3 523.8" stroke-width="1.3" fill="none" opacity="1.0"/></g>
<g clip-path="url(#c28o)"><path clip-path="url(#c28)" d="M194.7 533.3L260.1 546.0M193.9 537.2L259.4 550.0M193.2 541.2L258.6 553.9M192.4 545.1L257.9 557.8M191.7 549.0L257.1 561.7" stroke-width="1.3" fill="none" opacity="1.0"/></g>
<g clip-path="url(#c29o)"><path clip-path="url(#c29)" d="M253.9 551.5L253.9 581.0M250.3 551.5L250.3 581.0M246.7 551.5L246.7 581.0M243.1 551.5L243.1 581.0M239.5 551.5L239.5 581.0M235.9 551.5L235.9 581.0M232.3 551.5L232.3 581.0M228.7 551.5L228.7 581.0M225.1 551.5L225.1 581.0M221.5 551.5L221.5 581.0M217.9 551.5L217.9 581.0M214.3 551.5L214.3 581.0M210.7 551.5L210.7 581.0M207.1 551.5L207.1 581.0M203.5 551.5L203.5 581.0M199.9 551.5L199.9 581.0" stroke-width="1.7" fill="none" opacity="1.0"/></g>
<polygon points="251.0,538.0 257.0,547.0 263.5,560.0 262.0,567.0 252.0,566.0" fill="#000" stroke="none" />
<path d="M186.7,496.7 C192,495 197,495 201.2,495.6 C215,497 230,501 239,504.5 C243,510 246,516 248,521.2 C250,527 252,532 253.5,536.8 C254.5,541 255,545 255.7,549 C258,553 262,557 263.5,561.3 C263.5,564 263,567 262.4,570.2 C261,573 259,576 256.9,579.1 C255,582 253,585 251.3,586.9 C246,588 241,588 236.8,588 C230,587.5 223,587 216.8,585.8 C210,584 204,583 197.8,581.3 C194,580 190,579 187.8,578 C186,575 185,571 183.4,568 C181,561 180,553 178.9,545.7 C177,537 175.5,529 175.6,521.2 C176,517 177,513 178.9,510 C181,505 184,500 186.7,496.7 Z" fill="none" stroke-width="3.0"/>
<line x1="192.3" y1="499.0" x2="192.3" y2="570.0" stroke-width="1.3" />
<line x1="196.7" y1="499.0" x2="196.7" y2="572.0" stroke-width="1.3" />
<line x1="197.0" y1="553.5" x2="255.7" y2="562.4" stroke-width="1.6" />
<line x1="197.8" y1="571.3" x2="255.7" y2="580.0" stroke-width="1.6" />
<path d="M196,530 C203,529 210,527 215,524" fill="none" stroke-width="1.2" stroke-dasharray="4 3"/>
<path d="M218,503 C224,510 228,520 225,535 C224,542 222,548 221,553" fill="none" stroke-width="1.2" stroke-dasharray="4 3"/>
<line x1="199.0" y1="534.0" x2="228.0" y2="540.0" stroke-width="1.0" stroke-dasharray="3 3"/>
<line x1="238.0" y1="504.0" x2="418.0" y2="543.0" stroke-width="1.5" stroke-dasharray="6 4"/>
<line x1="262.0" y1="571.0" x2="406.0" y2="602.0" stroke-width="1.5" stroke-dasharray="6 4"/>
<path d="M418,543 C404,548 397,562 397.5,575 C398,590 402,600 412,603" fill="none" stroke-width="1.5" stroke-dasharray="6 4"/>
<line x1="172.8" y1="628.8" x2="172.8" y2="645.8" stroke-width="1.4" stroke-dasharray="2 2.5"/>
<line x1="172.8" y1="645.8" x2="172.8" y2="769.4" stroke-width="1.6" />
<line x1="178.4" y1="638.2" x2="178.4" y2="659.0" stroke-width="1.4" stroke-dasharray="2 2.5"/>
<line x1="178.4" y1="659.0" x2="178.4" y2="770.8" stroke-width="1.6" />
<line x1="184.5" y1="644.8" x2="184.5" y2="681.5" stroke-width="1.4" stroke-dasharray="2 2.5"/>
<line x1="184.5" y1="681.5" x2="184.5" y2="772.3" stroke-width="1.6" />
<line x1="191.6" y1="664.6" x2="191.6" y2="685.3" stroke-width="1.4" stroke-dasharray="2 2.5"/>
<line x1="191.6" y1="685.3" x2="191.6" y2="774.0" stroke-width="1.6" />
<line x1="199.1" y1="670.2" x2="199.1" y2="696.6" stroke-width="1.4" stroke-dasharray="2 2.5"/>
<line x1="199.1" y1="696.6" x2="199.1" y2="775.8" stroke-width="1.6" />
<line x1="207.0" y1="675.9" x2="207.0" y2="698.4" stroke-width="1.4" stroke-dasharray="2 2.5"/>
<line x1="207.0" y1="698.4" x2="207.0" y2="777.8" stroke-width="1.6" />
<line x1="214.6" y1="676.8" x2="214.6" y2="700.3" stroke-width="1.4" stroke-dasharray="2 2.5"/>
<line x1="214.6" y1="700.3" x2="214.6" y2="779.6" stroke-width="1.6" />
<line x1="223.6" y1="676.8" x2="223.6" y2="717.3" stroke-width="1.4" stroke-dasharray="2 2.5"/>
<line x1="223.6" y1="717.3" x2="223.6" y2="781.8" stroke-width="1.6" />
<line x1="231.9" y1="681.5" x2="231.9" y2="711.6" stroke-width="1.4" stroke-dasharray="2 2.5"/>
<line x1="231.9" y1="711.6" x2="231.9" y2="783.8" stroke-width="1.6" />
<line x1="240.0" y1="688.1" x2="240.0" y2="719.1" stroke-width="1.4" stroke-dasharray="2 2.5"/>
<line x1="240.0" y1="719.1" x2="240.0" y2="785.8" stroke-width="1.6" />
<line x1="248.4" y1="702.2" x2="248.4" y2="721.0" stroke-width="1.4" stroke-dasharray="2 2.5"/>
<line x1="248.4" y1="721.0" x2="248.4" y2="787.9" stroke-width="1.6" />
<line x1="258.2" y1="706.9" x2="258.2" y2="724.8" stroke-width="1.4" stroke-dasharray="2 2.5"/>
<line x1="258.2" y1="724.8" x2="258.2" y2="790.3" stroke-width="1.6" />
<line x1="268.8" y1="718.2" x2="268.8" y2="732.3" stroke-width="1.4" stroke-dasharray="2 2.5"/>
<line x1="268.8" y1="732.3" x2="268.8" y2="792.9" stroke-width="1.6" />
<line x1="280.1" y1="739.8" x2="280.1" y2="760.0" stroke-width="1.4" stroke-dasharray="2 2.5"/>
<line x1="280.1" y1="760.0" x2="280.1" y2="795.6" stroke-width="1.6" />
<line x1="131.0" y1="533.3" x2="164.0" y2="542.7" stroke-width="1.8" />
<line x1="131.0" y1="538.8" x2="164.0" y2="548.2" stroke-width="1.8" />
<line x1="117.0" y1="530.0" x2="129.0" y2="533.0" stroke-width="1.5" stroke-dasharray="2.5 2.5"/>
<line x1="117.0" y1="535.7" x2="129.0" y2="538.3" stroke-width="1.5" stroke-dasharray="2.5 2.5"/>
<line x1="124.0" y1="579.0" x2="164.8" y2="589.8" stroke-width="2.4" />
<line x1="113.8" y1="577.3" x2="122.0" y2="579.0" stroke-width="1.6" stroke-dasharray="2 2"/>
<line x1="146.8" y1="508.0" x2="146.8" y2="520.0" stroke-width="1.2" stroke-dasharray="2 2.5"/>
<line x1="146.8" y1="520.0" x2="146.8" y2="538.2" stroke-width="1.3" />
<line x1="152.3" y1="507.0" x2="152.3" y2="520.0" stroke-width="1.2" stroke-dasharray="2 2.5"/>
<line x1="152.3" y1="520.0" x2="152.3" y2="539.8" stroke-width="1.3" />
<line x1="157.7" y1="510.0" x2="157.7" y2="520.0" stroke-width="1.2" stroke-dasharray="2 2.5"/>
<line x1="157.7" y1="520.0" x2="157.7" y2="541.3" stroke-width="1.3" />
<line x1="126.0" y1="587.0" x2="140.0" y2="590.0" stroke-width="1.1" stroke-dasharray="3 1.5"/>
<line x1="126.5" y1="590.0" x2="142.0" y2="593.2" stroke-width="1.1" stroke-dasharray="3 1.5"/>
<line x1="127.0" y1="593.0" x2="144.0" y2="596.4" stroke-width="1.1" stroke-dasharray="3 1.5"/>
<line x1="127.5" y1="596.0" x2="146.0" y2="599.6" stroke-width="1.1" stroke-dasharray="3 1.5"/>
<line x1="128.0" y1="599.0" x2="148.0" y2="602.8" stroke-width="1.1" stroke-dasharray="3 1.5"/>
<line x1="156.0" y1="600.0" x2="160.0" y2="601.0" stroke-width="1.2" />
<line x1="120.0" y1="610.0" x2="122.0" y2="610.5" stroke-width="1.5" />
<line x1="121.0" y1="615.0" x2="123.0" y2="615.5" stroke-width="1.5" />
<line x1="130.0" y1="616.0" x2="132.0" y2="616.5" stroke-width="1.5" />
<line x1="753.0" y1="691.3" x2="829.0" y2="709.2" stroke-width="2.2" />
<line x1="753.0" y1="698.9" x2="827.0" y2="716.7" stroke-width="2.2" />
<line x1="753.0" y1="743.1" x2="828.0" y2="761.9" stroke-width="1.6" />
<line x1="832.0" y1="710.0" x2="836.0" y2="711.0" stroke-width="1.8" />
<line x1="831.0" y1="718.0" x2="835.0" y2="719.0" stroke-width="1.8" />
<line x1="758.0" y1="650.0" x2="758.0" y2="665.0" stroke-width="1.1" stroke-dasharray="1.5 3"/>
<line x1="758.0" y1="665.0" x2="758.0" y2="691.5" stroke-width="1.2" />
<line x1="761.5" y1="620.0" x2="761.5" y2="655.0" stroke-width="1.1" stroke-dasharray="1.5 3"/>
<line x1="761.5" y1="655.0" x2="761.5" y2="692.3" stroke-width="1.2" />
<line x1="764.0" y1="615.0" x2="764.0" y2="650.0" stroke-width="1.1" stroke-dasharray="1.5 3"/>
<line x1="764.0" y1="650.0" x2="764.0" y2="692.9" stroke-width="1.2" />
<line x1="767.0" y1="600.0" x2="767.0" y2="655.0" stroke-width="1.1" stroke-dasharray="1.5 3"/>
<line x1="767.0" y1="655.0" x2="767.0" y2="693.6" stroke-width="1.2" />
<line x1="770.0" y1="625.0" x2="770.0" y2="660.0" stroke-width="1.1" stroke-dasharray="1.5 3"/>
<line x1="770.0" y1="660.0" x2="770.0" y2="694.3" stroke-width="1.2" />
<line x1="773.0" y1="610.0" x2="773.0" y2="658.0" stroke-width="1.1" stroke-dasharray="1.5 3"/>
<line x1="773.0" y1="658.0" x2="773.0" y2="695.0" stroke-width="1.2" />
<line x1="776.0" y1="640.0" x2="776.0" y2="668.0" stroke-width="1.1" stroke-dasharray="1.5 3"/>
<line x1="776.0" y1="668.0" x2="776.0" y2="695.7" stroke-width="1.2" />
<line x1="780.0" y1="628.0" x2="780.0" y2="665.0" stroke-width="1.1" stroke-dasharray="1.5 3"/>
<line x1="780.0" y1="665.0" x2="780.0" y2="696.7" stroke-width="1.2" />
<line x1="784.0" y1="648.0" x2="784.0" y2="672.0" stroke-width="1.1" stroke-dasharray="1.5 3"/>
<line x1="784.0" y1="672.0" x2="784.0" y2="697.6" stroke-width="1.2" />
<line x1="788.0" y1="630.0" x2="788.0" y2="670.0" stroke-width="1.1" stroke-dasharray="1.5 3"/>
<line x1="788.0" y1="670.0" x2="788.0" y2="698.5" stroke-width="1.2" />
<line x1="794.0" y1="640.0" x2="794.0" y2="675.0" stroke-width="1.1" stroke-dasharray="1.5 3"/>
<line x1="794.0" y1="675.0" x2="794.0" y2="700.0" stroke-width="1.2" />
<line x1="801.0" y1="655.0" x2="801.0" y2="680.0" stroke-width="1.1" stroke-dasharray="1.5 3"/>
<line x1="801.0" y1="680.0" x2="801.0" y2="701.6" stroke-width="1.2" />
<line x1="810.0" y1="668.0" x2="810.0" y2="690.0" stroke-width="1.1" stroke-dasharray="1.5 3"/>
<line x1="810.0" y1="690.0" x2="810.0" y2="703.7" stroke-width="1.2" />
<line x1="819.0" y1="675.0" x2="819.0" y2="692.0" stroke-width="1.1" stroke-dasharray="1.5 3"/>
<line x1="819.0" y1="692.0" x2="819.0" y2="705.8" stroke-width="1.2" />
<line x1="767.0" y1="484.0" x2="767.0" y2="600.0" stroke-width="1.1" stroke-dasharray="1.5 4"/>
<line x1="102.0" y1="764.0" x2="150.0" y2="777.0" stroke-width="1.1" stroke-dasharray="2 2.5" opacity="0.65"/>
<line x1="108.0" y1="769.0" x2="170.0" y2="786.0" stroke-width="1.1" stroke-dasharray="2 2.5" opacity="0.65"/>
<line x1="118.0" y1="774.0" x2="200.0" y2="797.0" stroke-width="1.1" stroke-dasharray="2 2.5" opacity="0.65"/>
<line x1="130.0" y1="781.0" x2="210.0" y2="803.0" stroke-width="1.1" stroke-dasharray="2 2.5" opacity="0.65"/>
<line x1="150.0" y1="787.0" x2="215.0" y2="805.0" stroke-width="1.1" stroke-dasharray="2 2.5" opacity="0.65"/>
<line x1="160.0" y1="794.0" x2="205.0" y2="806.0" stroke-width="1.1" stroke-dasharray="2 2.5" opacity="0.65"/>
<line x1="175.0" y1="799.0" x2="208.0" y2="808.0" stroke-width="1.1" stroke-dasharray="2 2.5" opacity="0.65"/>
<line x1="158.0" y1="801.0" x2="175.0" y2="806.0" stroke-width="1.1" stroke-dasharray="2 2.5" opacity="0.65"/>
<line x1="205.0" y1="804.0" x2="290.0" y2="827.0" stroke-width="1.1" stroke-dasharray="2 2.5" opacity="0.65"/>
<line x1="215.0" y1="809.0" x2="300.0" y2="832.0" stroke-width="1.1" stroke-dasharray="2 2.5" opacity="0.65"/>
<line x1="225.0" y1="815.0" x2="280.0" y2="830.0" stroke-width="1.1" stroke-dasharray="2 2.5" opacity="0.65"/>
<line x1="240.0" y1="818.0" x2="265.0" y2="825.0" stroke-width="1.1" stroke-dasharray="2 2.5" opacity="0.65"/>
<line x1="120.0" y1="790.0" x2="135.0" y2="794.0" stroke-width="1.1" stroke-dasharray="2 2.5" opacity="0.65"/>
<line x1="150.0" y1="812.0" x2="160.0" y2="815.0" stroke-width="1.1" stroke-dasharray="2 2.5" opacity="0.65"/>
<line x1="185.0" y1="823.0" x2="200.0" y2="827.0" stroke-width="1.1" stroke-dasharray="2 2.5" opacity="0.65"/>
<line x1="260.0" y1="806.0" x2="300.0" y2="817.0" stroke-width="1.1" stroke-dasharray="2 2.5" opacity="0.65"/>
<line x1="200.0" y1="796.0" x2="240.0" y2="807.0" stroke-width="1.1" stroke-dasharray="2 2.5" opacity="0.65"/>
<line x1="755.0" y1="746.0" x2="800.0" y2="757.0" stroke-width="1.1" stroke-dasharray="3 2" opacity="0.8"/>
<line x1="755.0" y1="750.0" x2="797.0" y2="761.5" stroke-width="1.1" stroke-dasharray="3 2" opacity="0.8"/>
<line x1="755.0" y1="754.0" x2="794.0" y2="766.0" stroke-width="1.1" stroke-dasharray="3 2" opacity="0.8"/>
<line x1="755.0" y1="758.0" x2="791.0" y2="770.5" stroke-width="1.1" stroke-dasharray="3 2" opacity="0.8"/>
<line x1="755.0" y1="762.0" x2="788.0" y2="775.0" stroke-width="1.1" stroke-dasharray="3 2" opacity="0.8"/>
<line x1="755.0" y1="766.0" x2="785.0" y2="779.5" stroke-width="1.1" stroke-dasharray="3 2" opacity="0.8"/>
<line x1="688.0" y1="796.0" x2="745.0" y2="811.0" stroke-width="1.0" stroke-dasharray="3 2" opacity="0.75"/>
<line x1="690.0" y1="800.0" x2="748.0" y2="815.0" stroke-width="1.0" stroke-dasharray="3 2" opacity="0.75"/>
<line x1="692.0" y1="804.0" x2="751.0" y2="819.0" stroke-width="1.0" stroke-dasharray="3 2" opacity="0.75"/>
<line x1="694.0" y1="808.0" x2="754.0" y2="823.0" stroke-width="1.0" stroke-dasharray="3 2" opacity="0.75"/>
<line x1="696.0" y1="812.0" x2="757.0" y2="827.0" stroke-width="1.0" stroke-dasharray="3 2" opacity="0.75"/>
<line x1="698.0" y1="816.0" x2="760.0" y2="831.0" stroke-width="1.0" stroke-dasharray="3 2" opacity="0.75"/>
<line x1="700.0" y1="820.0" x2="763.0" y2="835.0" stroke-width="1.0" stroke-dasharray="3 2" opacity="0.75"/>
<line x1="612.0" y1="866.0" x2="690.0" y2="884.0" stroke-width="1.0" stroke-dasharray="3 2" opacity="0.75"/>
<line x1="614.0" y1="870.0" x2="694.0" y2="888.0" stroke-width="1.0" stroke-dasharray="3 2" opacity="0.75"/>
<line x1="616.0" y1="874.0" x2="698.0" y2="892.0" stroke-width="1.0" stroke-dasharray="3 2" opacity="0.75"/>
<line x1="618.0" y1="878.0" x2="702.0" y2="896.0" stroke-width="1.0" stroke-dasharray="3 2" opacity="0.75"/>
<line x1="620.0" y1="882.0" x2="706.0" y2="900.0" stroke-width="1.0" stroke-dasharray="3 2" opacity="0.75"/>
<line x1="622.0" y1="886.0" x2="710.0" y2="904.0" stroke-width="1.0" stroke-dasharray="3 2" opacity="0.75"/>
<line x1="624.0" y1="890.0" x2="714.0" y2="908.0" stroke-width="1.0" stroke-dasharray="3 2" opacity="0.75"/>
<line x1="778.0" y1="853.5" x2="782.0" y2="855.0" stroke-width="2" />
<line x1="450.4" y1="838.9" x2="597.4" y2="879.6" stroke-width="1.1" stroke-dasharray="5 1.5" opacity="0.8"/>
<line x1="469.2" y1="840.6" x2="600.5" y2="877.0" stroke-width="1.1" stroke-dasharray="5 1.5" opacity="0.8"/>
<line x1="473.7" y1="838.3" x2="603.1" y2="874.2" stroke-width="1.1" stroke-dasharray="2.5 2" opacity="0.8"/>
<line x1="479.8" y1="836.5" x2="601.3" y2="870.2" stroke-width="1.1" stroke-dasharray="2.5 2" opacity="0.8"/>
<line x1="498.1" y1="838.1" x2="600.8" y2="866.5" stroke-width="1.1" stroke-dasharray="2.5 2" opacity="0.8"/>
<line x1="500.7" y1="835.3" x2="609.6" y2="865.5" stroke-width="1.1" stroke-dasharray="2.5 2" opacity="0.8"/>
<line x1="511.9" y1="834.9" x2="606.4" y2="861.1" stroke-width="1.1" stroke-dasharray="2.5 2" opacity="0.8"/>
<line x1="532.7" y1="837.2" x2="618.5" y2="860.9" stroke-width="1.1" stroke-dasharray="2.5 2" opacity="0.8"/>
<line x1="548.5" y1="838.1" x2="610.3" y2="855.2" stroke-width="1.1" stroke-dasharray="2.5 2" opacity="0.8"/>
<line x1="554.5" y1="836.2" x2="617.4" y2="853.6" stroke-width="1.1" stroke-dasharray="2.5 2" opacity="0.8"/>
<line x1="755.6" y1="175.8" x2="770.3" y2="175.8" stroke-width="2.2" />
<line x1="648.0" y1="64.0" x2="652.0" y2="66.0" stroke-width="1.5" />
<line x1="729.0" y1="309.4" x2="732.0" y2="309.4" stroke-width="1.5" />
<line x1="784.0" y1="438.0" x2="786.0" y2="444.0" stroke-width="1.5" />
<line x1="44.0" y1="612.0" x2="45.0" y2="612.5" stroke-width="1.4" />
<line x1="892.0" y1="630.0" x2="893.0" y2="630.5" stroke-width="1.2" />
<line x1="892.0" y1="668.0" x2="893.0" y2="668.5" stroke-width="1.2" />
<line x1="322.0" y1="17.0" x2="326.0" y2="19.0" stroke-width="1.3" />
<line x1="348.0" y1="23.0" x2="352.0" y2="24.0" stroke-width="1.2" />
</svg></body></html>
